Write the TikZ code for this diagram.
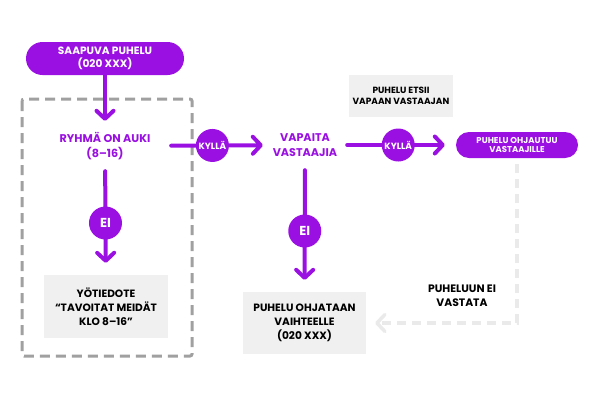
\documentclass[tikz,border=0pt]{standalone}
\usepackage{fontspec}
\setmainfont{Poppins}
\usetikzlibrary{arrows.meta}
\definecolor{pur}{RGB}{154,16,226}
\definecolor{boxgray}{RGB}{240,240,240}
\definecolor{dashgray}{RGB}{160,160,160}
\definecolor{lightdash}{RGB}{234,234,234}
\begin{document}
\begin{tikzpicture}[x=1pt,y=-1pt,
  pill/.style={fill=pur, text=white, align=center, inner sep=0pt, font=\bfseries\fontsize{10.6}{12.5}\selectfont},
  purtext/.style={text=pur, align=center, inner sep=0pt, font=\bfseries\fontsize{11.2}{14.8}\selectfont},
  circ/.style={circle, fill=pur, text=white, minimum size=33pt, inner sep=0pt},
  graybox/.style={fill=boxgray, text=black, align=center, inner sep=0pt, font=\bfseries\fontsize{10.6}{13.8}\selectfont},
  arr/.style={draw=pur, line width=4pt, line cap=round, -{Straight Barb[length=8pt,width=17pt,round]}},
  groupbox/.style={draw=dashgray, line width=3pt, dash pattern=on 10pt off 6pt, rounded corners=2pt},
  backline/.style={draw=lightdash, line width=3.5pt, dash pattern=on 9pt off 6pt, -{Straight Barb[length=8pt,width=17pt,round]}}
]
\useasboundingbox (0,0) rectangle (600,400);
\draw[groupbox] (22,99) rectangle (192,356);

\node[pill, minimum width=158pt, minimum height=33pt, rounded corners=16.5pt] (start) at (105,58.5) {SAAPUVA PUHELU\\(020 XXX)};
\node[purtext, minimum width=132pt, minimum height=50pt] (group) at (105,146) {RYHMÄ ON AUKI\\(8–16)};
\node[purtext, minimum width=84pt, minimum height=50pt] (free) at (305,145) {VAPAITA\\VASTAAJIA};
\node[pill, minimum width=122pt, minimum height=26pt, rounded corners=13pt, font=\bfseries\fontsize{8.5}{9.8}\selectfont] (agents) at (517,145) {PUHELU OHJAUTUU\\VASTAAJILLE};
\node[graybox, minimum width=104pt, minimum height=42pt, font=\bfseries\fontsize{9}{10.8}\selectfont] (search) at (401,96) {PUHELU ETSII\\VAPAAN VASTAAJAN};
\node[graybox, minimum width=124pt, minimum height=63pt] (night) at (106,306.5) {YÖTIEDOTE\\“TAVOITAT MEIDÄT\\KLO 8–16”};
\node[graybox, minimum width=123pt, minimum height=62pt] (switch) at (304.5,323) {PUHELU OHJATAAN\\VAIHTEELLE\\(020 XXX)};
\node[align=center, inner sep=0pt, font=\bfseries\fontsize{10.8}{14.3}\selectfont] (noans) at (462,296) {PUHELUUN EI\\VASTATA};

\draw[arr] (start) -- (group);
\draw[arr] (group) -- node[circ, pos=0.45, font=\bfseries\fontsize{9}{10}\selectfont] (k1) {KYLLÄ} (free);
\draw[arr, shorten >=11pt] (free) -- node[circ, pos=0.47, font=\bfseries\fontsize{9}{10}\selectfont] (k2) {KYLLÄ} (agents);
\draw[arr, shorten >=12pt] (group) -- node[circ, font=\bfseries\fontsize{13}{14}\selectfont] (e1) {EI} (night);
\draw[arr, shorten >=12pt] (free) -- node[circ, font=\bfseries\fontsize{13}{14}\selectfont] (e2) {EI} (switch);
\draw[backline, shorten <=6pt, shorten >=9pt] (agents.south) |- (switch.east);
\end{tikzpicture}
\end{document}
